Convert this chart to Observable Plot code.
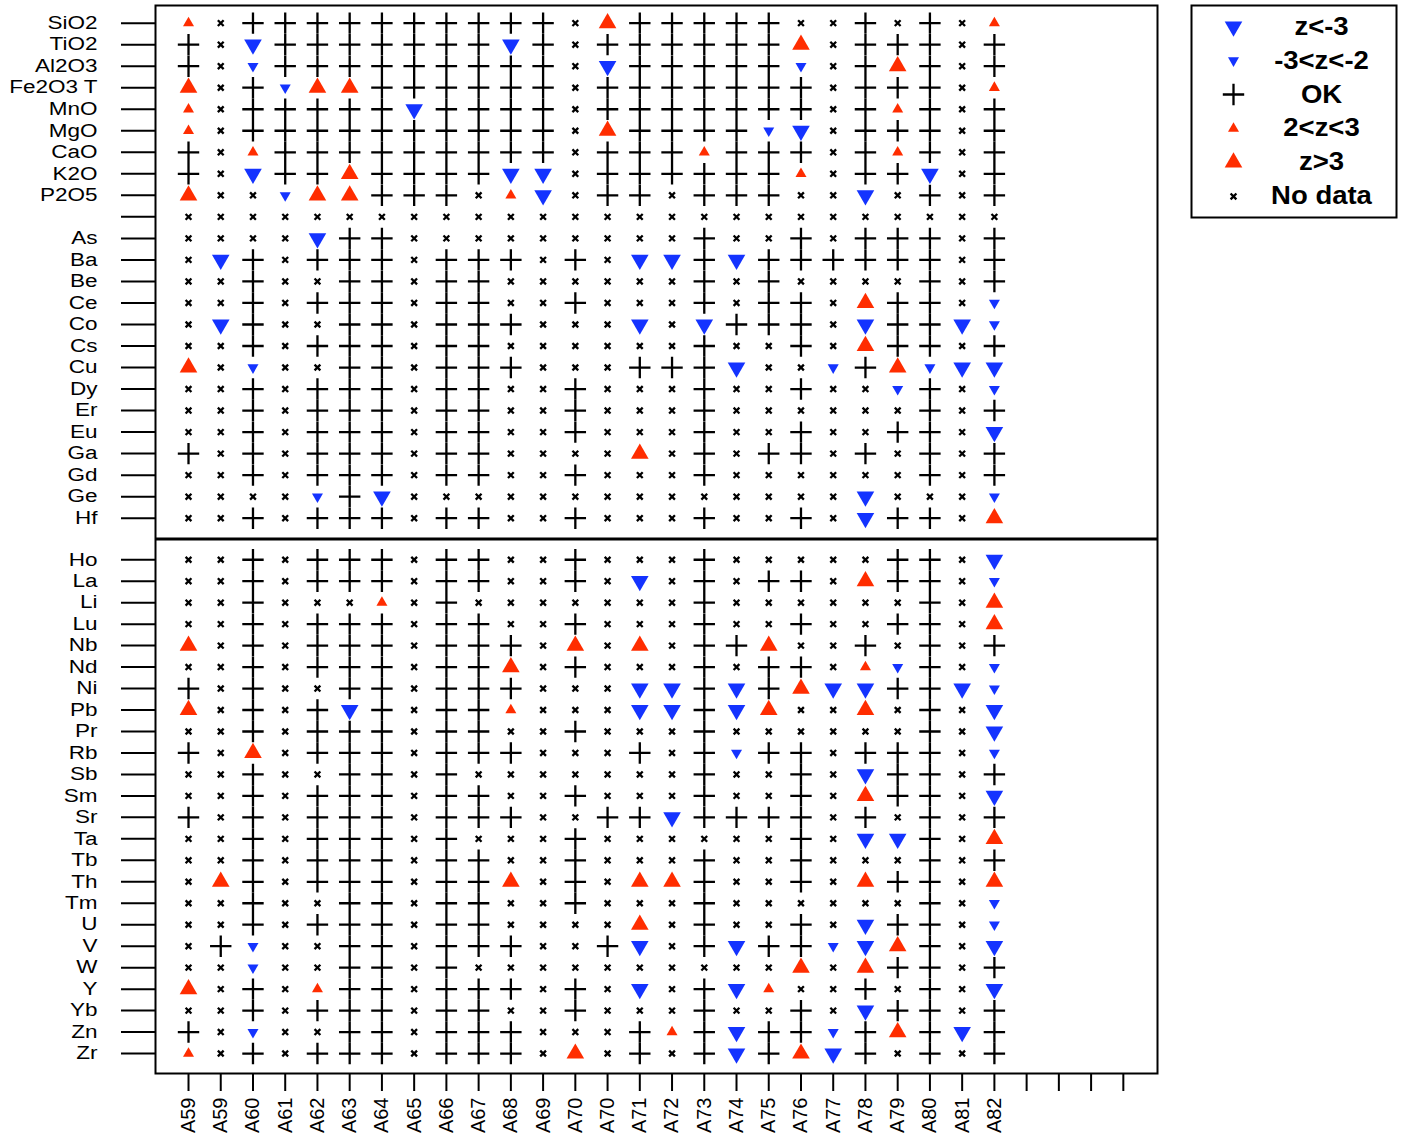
<!DOCTYPE html>
<html><head><meta charset="utf-8">
<script src="https://cdn.jsdelivr.net/npm/d3@7"></script>
<script src="https://cdn.jsdelivr.net/npm/@observablehq/plot@0.6"></script>
<style>
body{margin:0;background:#fff;}
#wrap{position:relative;width:1403px;height:1135px;background:#fff;font-family:"Liberation Sans",Arial,Helvetica,sans-serif;}
#main{position:absolute;left:0;top:0;}
#legend{position:absolute;left:1190px;top:4px;}
</style></head>
<body><div id="wrap"><div id="main"></div><div id="legend"></div></div>
<script>
// ---------------- data ----------------
const labs = ["A59","A59","A60","A61","A62","A63","A64","A65","A66","A67","A68","A69","A70",
              "A70","A71","A72","A73","A74","A75","A76","A77","A78","A79","A80","A81","A82"];
const extraTickCount = 4;

const topElements = ["SiO2","TiO2","Al2O3","Fe2O3 T","MnO","MgO","CaO","K2O","P2O5","",
  "As","Ba","Be","Ce","Co","Cs","Cu","Dy","Er","Eu","Ga","Gd","Ge","Hf"];
const bottomElements = ["Ho","La","Li","Lu","Nb","Nd","Ni","Pb","Pr","Rb","Sb","Sm",
  "Sr","Ta","Tb","Th","Tm","U","V","W","Y","Yb","Zn","Zr"];

// codes: D = z<-3, d = -3<z<-2, + = OK, u = 2<z<3, U = z>3, . = no data
const topCodes = [
  "u.++++++++++. U+++++..+.+.u",
  "+.D+++++++D+. ++++++U.+++.+",
  "+.d+++++++++. D+++++d.+U+.+",
  "U.+dUU++++++. +++++++.+++.u",
  "u.+++++D++++. +++++++.+u+.+",
  "u.++++++++++. U++++dD.+++.+",
  "+.u+++++++++. +++u+++.+u+.+",
  "+.D++U++++DD. ++++++u.++D.+",
  "U..dUU+++.uD. ++.+++..D.+.+",
  "............. .............",
  "....D++...... ...+..+.+++.+",
  ".D+.+++.+++.+ .DD+D++++++.+",
  "..+..++.++... ...+.+....+.+",
  "..+.+++.++..+ ...+.++.U++.d",
  ".D+..++.+++.. .D.D+++.D++Dd",
  "..+.+++.++... ...+..+.U++.+",
  "U.d..++.+++.. .+++D..d+UdDD",
  "..+.+++.++..+ ...+..+..d+.d",
  "..+.+++.++..+ ...+......+.+",
  "..+.+++.++..+ ...+..+..++.D",
  "+.+.+++.++... .U.+.++.+.+.+",
  "..+.+++.++..+ ...+......+.+",
  "....d+D...... ........D...d",
  "..+.+++.++..+ ...+..+.D++.U"
];
const bottomCodes = [
  "..+.+++.++..+ ...+.....++.D",
  "..+.+++.++..+ .D.+.++.U++.d",
  "..+...u.+.... ...+......+.U",
  "..+.+++.++..+ ...+..+..++.U",
  "U.+.+++.+++.U .U.++U..+.+.+",
  "..+.+++.++U.+ ...+.++.ud+.d",
  "+.+..++.+++.. .DD+D+UDD++Dd",
  "U.+.+D+.++u.. .DD+DU..U.+.D",
  "..+.+++.++..+ ...+......+.D",
  "+.U.+++.+++.. .+.+d++.+++.d",
  "..+..++.+.... ...+..+.D++.+",
  "..+.+++.++..+ ...+..+.U++.D",
  "+.+.+++.+++.. ++D++++.+.+.+",
  "..+.+++.+...+ ......+.DD+.U",
  "..+.+++.++..+ ...+..+...+.+",
  ".U+.+++.++U.+ .UU+..+.U++.U",
  "..+..++.++..+ ...+......+.d",
  "..+.+++.++... .U.+..+.D++.d",
  ".+d..++.+++.. +D.+D++dDU+.D",
  "..d..++.+.... ......U.U++.+",
  "U.+.u++.+++.+ .D.+Du..+.+.D",
  "..+.+++.++..+ ...+..+.D++.+",
  "+.d..++.+++.. .+u+D++d+U+D+",
  "u.+.+++.+++.U .+.+D+UD+.+.+"
];

const legendLabels = ["z<-3","-3<z<-2","OK","2<z<3","z>3","No data"];
const legendCodes  = ["D","d","+","u","U","."];

// ---------------- symbols & styles ----------------
const BLUE = "#1433ff", RED = "#ff2d00";
const S3 = Math.sqrt(3);
const rad = size => Math.sqrt(size / Math.PI);
const triUp = {draw(c, size){ const s = rad(size), h = s*S3;
  c.moveTo(0,-2*h/3); c.lineTo(s,h/3); c.lineTo(-s,h/3); c.closePath(); }};
const triDown = {draw(c, size){ const s = rad(size), h = s*S3;
  c.moveTo(0,2*h/3); c.lineTo(s,-h/3); c.lineTo(-s,-h/3); c.closePath(); }};
const plusSym = {draw(c, size){ const s = rad(size);
  c.moveTo(-s,0); c.lineTo(s,0); c.moveTo(0,-s); c.lineTo(0,s); }};
const timesSym = {draw(c, size){ const s = rad(size);
  c.moveTo(-s,-s); c.lineTo(s,s); c.moveTo(-s,s); c.lineTo(s,-s); }};

const spec = {
  "+": {symbol: plusSym,  r: 10.7, fill: "none", stroke: "black", strokeWidth: 2.3},
  ".": {symbol: timesSym, r: 2.9,  fill: "none", stroke: "black", strokeWidth: 2.3},
  "D": {symbol: triDown,  r: 8.8,  fill: BLUE, stroke: "none"},
  "d": {symbol: triDown,  r: 5.5,  fill: BLUE, stroke: "none"},
  "U": {symbol: triUp,    r: 8.8,  fill: RED,  stroke: "none"},
  "u": {symbol: triUp,    r: 5.5,  fill: RED,  stroke: "none"}
};
const drawOrder = ["+", ".", "D", "d", "U", "u"];

// ---------------- layout of rows ----------------
const rowNames = [...topElements, ...bottomElements];
const rowCodes = [...topCodes, ...bottomCodes].map(s => s.replace(/ /g, ""));
const rowPos = rowNames.map((_, i) => i < topElements.length ? i : 24.93 + (i - topElements.length) * 0.9975);
const nameByPos = new Map(rowPos.map((p, i) => [p, rowNames[i]]));
const divider = (rowPos[topElements.length - 1] + rowPos[topElements.length]) / 2;

const cells = [];
rowCodes.forEach((str, r) => {
  [...str].forEach((code, c) => cells.push({row: rowNames[r], pos: rowPos[r], col: c, lab: labs[c], code}));
});

const xTicks = d3.range(labs.length + extraTickCount);
const FONT = "Liberation Sans, Arial, Helvetica, sans-serif";

const main = Plot.plot({
  width: 1170, height: 1135,
  marginLeft: 155, marginRight: 13, marginTop: 5, marginBottom: 62,
  x: {type: "linear", domain: [-1.024, 30.06], axis: null},
  y: {type: "linear", domain: [-0.82, 48.8], reverse: true, axis: null},
  style: {fontFamily: FONT, background: "white", color: "black", overflow: "visible"},
  marks: [
    Plot.axisY(rowPos, {anchor: "left", tickFormat: d => nameByPos.get(d), tickSize: 34, tickPadding: 24,
      fontSize: 18, strokeWidth: 2, label: null}),
    Plot.axisX(xTicks, {anchor: "bottom", tickFormat: i => labs[i] ?? "", tickRotate: -90, tickSize: 18,
      tickPadding: 6, fontSize: 20, strokeWidth: 2, label: null}),
    ...drawOrder.map(code => Plot.dot(cells.filter(d => d.code === code), {
      x: "col", y: "pos", ...spec[code]
    })),
    Plot.ruleY([divider], {stroke: "black", strokeWidth: 3}),
    Plot.frame({stroke: "black", strokeWidth: 2})
  ]
});
document.getElementById("main").appendChild(main);

const legendData = legendLabels.map((label, i) => ({label, code: legendCodes[i]}));
const legend = Plot.plot({
  width: 207, height: 214, margin: 1,
  x: {domain: [0, 1], axis: null},
  y: {type: "point", domain: legendLabels, padding: 0.62, round: false, axis: null},
  style: {fontFamily: FONT, background: "white", color: "black", overflow: "visible"},
  marks: [
    ...legendData.map(d => Plot.dot([d], {y: "label", frameAnchor: "left", dx: 42, ...spec[d.code]})),
    Plot.text(legendData, {y: "label", text: "label", frameAnchor: "left", dx: 130, textAnchor: "middle",
      fontSize: 25, fontWeight: "bold"}),
    Plot.frame({stroke: "black", strokeWidth: 2})
  ]
});
document.getElementById("legend").appendChild(legend);

// horizontal stretch of text to match the reference's wide lettering
function stretch(el, sx, sy) {
  const t = el.getAttribute("transform") || "";
  const x = +el.getAttribute("x") || 0, y = +el.getAttribute("y") || 0;
  el.setAttribute("transform", `${t} translate(${x},${y}) scale(${sx},${sy}) translate(${-x},${-y})`);
}
main.querySelectorAll('g[aria-label="y-axis tick label"] text').forEach(el => stretch(el, 1.25, 1));
legend.querySelectorAll('g[aria-label="text"] text').forEach(el => stretch(el, 1.1, 1));
</script>
</body></html>
